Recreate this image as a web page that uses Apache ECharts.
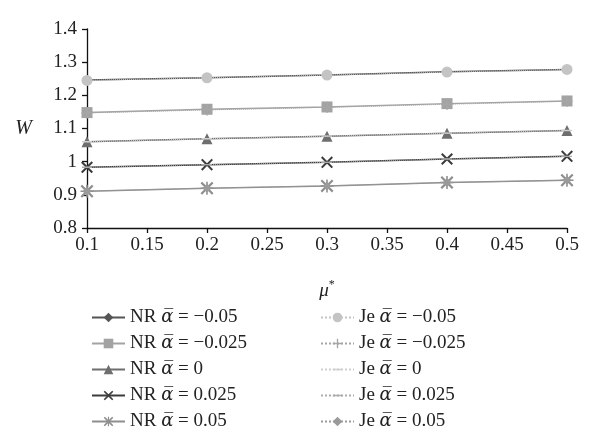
<!DOCTYPE html>
<html><head><meta charset="utf-8">
<script src="https://cdn.jsdelivr.net/npm/echarts@6/dist/echarts.min.js"></script>
<style>html,body{margin:0;padding:0;background:#fff}#c{width:600px;height:445px}</style>
</head><body><div id="c"></div>
<script>
const muValues = [0.1, 0.2, 0.3, 0.4, 0.5];
const nrNames = ['NR α̅ = −0.05','NR α̅ = −0.025','NR α̅ = 0','NR α̅ = 0.025','NR α̅ = 0.05'];
const jeNames = ['Je α̅ = −0.05','Je α̅ = −0.025','Je α̅ = 0','Je α̅ = 0.025','Je α̅ = 0.05'];
const nrM005 = [1.246, 1.253, 1.261, 1.271, 1.278];
const nrM0025 = [1.148, 1.158, 1.165, 1.175, 1.183];
const nr0 = [1.060, 1.069, 1.077, 1.086, 1.094];
const nr0025 = [0.983, 0.991, 0.998, 1.008, 1.016];
const nr005 = [0.911, 0.920, 0.927, 0.937, 0.944];
const jeM005 = [1.245, 1.253, 1.261, 1.270, 1.278];
const jeM0025 = [1.147, 1.156, 1.164, 1.173, 1.182];
const je0 = [1.060, 1.069, 1.077, 1.086, 1.094];
const je0025 = [0.983, 0.991, 0.998, 1.008, 1.016];
const je005 = [0.911, 0.920, 0.927, 0.937, 0.944];
const yTicks = {min: 0.8, max: 1.4, interval: 0.1};
const xTicks = {min: 0.1, max: 0.5, interval: 0.05};

const SYM_X = 'path://M0,1.2 L1.2,0 L5,3.8 L8.8,0 L10,1.2 L6.2,5 L10,8.8 L8.8,10 L5,6.2 L1.2,10 L0,8.8 L3.8,5 Z';
const SYM_STAR = 'path://M0,1.2 L1.2,0 L4.4,3.2 L4.4,0 L5.6,0 L5.6,3.2 L8.8,0 L10,1.2 L6.8,4.4 L10,4.4 L10,5.6 L6.8,5.6 L10,8.8 L8.8,10 L5.6,6.8 L5.6,10 L4.4,10 L4.4,6.8 L1.2,10 L0,8.8 L3.2,5.6 L0,5.6 L0,4.4 L3.2,4.4 Z';
const SYM_PLUS = 'path://M4.3,0 L5.7,0 L5.7,4.3 L10,4.3 L10,5.7 L5.7,5.7 L5.7,10 L4.3,10 L4.3,5.7 L0,5.7 L0,4.3 L4.3,4.3 Z';
const SYM_DASH = 'path://M0,0 L0,0.001 Z M10,10 L10,9.999 Z M0,4.3 L10,4.3 L10,5.7 L0,5.7 Z';

const font = '"Liberation Serif", "DejaVu Serif", serif';
function pts(arr){ return arr.map((v,i)=>[muValues[i], v]); }

const nrSpecs = [
  {d: nrM005, sym: 'diamond', size: 9, c: '#555555'},
  {d: nrM0025, sym: 'rect', size: 11, c: '#a3a3a3'},
  {d: nr0, sym: 'triangle', size: 11, c: '#6e6e6e'},
  {d: nr0025, sym: SYM_X, size: 12, c: '#3c3c3c'},
  {d: nr005, sym: SYM_STAR, size: 13, c: '#8e8e8e'}
];
const jeSpecs = [
  {d: jeM005, sym: 'circle', size: 11, c: '#c4c4c4'},
  {d: jeM0025, sym: SYM_PLUS, size: 11, c: '#a6a6a6'},
  {d: je0, sym: SYM_DASH, size: 10, c: '#cfcfcf'},
  {d: je0025, sym: SYM_DASH, size: 10, c: '#ababab'},
  {d: je005, sym: 'diamond', size: 9, c: '#9a9a9a'}
];
const series = [];
nrSpecs.forEach((s,i)=>series.push({
  name: nrNames[i], type: 'line', data: pts(s.d), symbol: s.sym, symbolSize: s.size,
  showAllSymbol: true, animation: false,
  lineStyle: {color: s.c, width: 1.5}, itemStyle: {color: s.c}, z: 2
}));
jeSpecs.forEach((s,i)=>series.push({
  name: jeNames[i], type: 'line', data: pts(s.d), symbol: s.sym, symbolSize: s.size,
  showAllSymbol: true, animation: false,
  lineStyle: {color: s.c, width: 1, type: 'dotted'}, itemStyle: {color: s.c}, z: 3
}));

const legendText = {
  fontFamily: font, fontSize: 19, color: '#222', lineHeight: 14,
  rich: { a: {fontFamily: '"DejaVu Serif", serif', fontStyle: 'italic', fontSize: 18, color: '#222', lineHeight: 14} }
};
function fmt(n){ return n.replace('α̅', '{a|α̅}'); }

const chart = echarts.init(document.getElementById('c'), null, {renderer: 'canvas'});
chart.setOption({
  backgroundColor: '#fff',
  animation: false,
  grid: {left: 87, right: 33, top: 29, bottom: 217, containLabel: false},
  xAxis: {
    type: 'value', min: xTicks.min, max: xTicks.max, interval: xTicks.interval,
    name: '{m|μ}{s|*}', nameLocation: 'middle', nameGap: 51,
    nameTextStyle: {rich: {
      m: {fontFamily: font, fontStyle: 'italic', fontSize: 19, color: '#222'},
      s: {fontFamily: font, fontSize: 12, color: '#222', verticalAlign: 'top', padding: [0,0,12,0]}
    }},
    axisLine: {show: true, onZero: false, lineStyle: {color: '#111', width: 1.3}},
    axisTick: {show: true, length: 5, lineStyle: {color: '#111', width: 1.3}},
    axisLabel: {fontFamily: font, fontSize: 19, color: '#222', margin: 8},
    splitLine: {show: false}
  },
  yAxis: {
    type: 'value', min: yTicks.min, max: yTicks.max, interval: yTicks.interval,
    name: 'W', nameLocation: 'middle', nameGap: 55, nameRotate: 0,
    nameTextStyle: {fontFamily: font, fontStyle: 'italic', fontSize: 20, color: '#222'},
    axisLine: {show: true, onZero: false, lineStyle: {color: '#111', width: 1.3}},
    axisTick: {show: true, length: 5, lineStyle: {color: '#111', width: 1.3}},
    axisLabel: {fontFamily: font, fontSize: 19, color: '#222', margin: 10},
    splitLine: {show: false}
  },
  legend: [
    {data: nrNames, orient: 'vertical', left: 86, top: 303, height: 142, itemWidth: 33, itemHeight: 12, itemGap: 7,
     textStyle: legendText, formatter: fmt, selectedMode: false},
    {data: jeNames, orient: 'vertical', left: 315, top: 303, height: 142, itemWidth: 33, itemHeight: 12, itemGap: 7,
     textStyle: legendText, formatter: fmt, selectedMode: false}
  ],
  series: series
});
</script></body></html>
